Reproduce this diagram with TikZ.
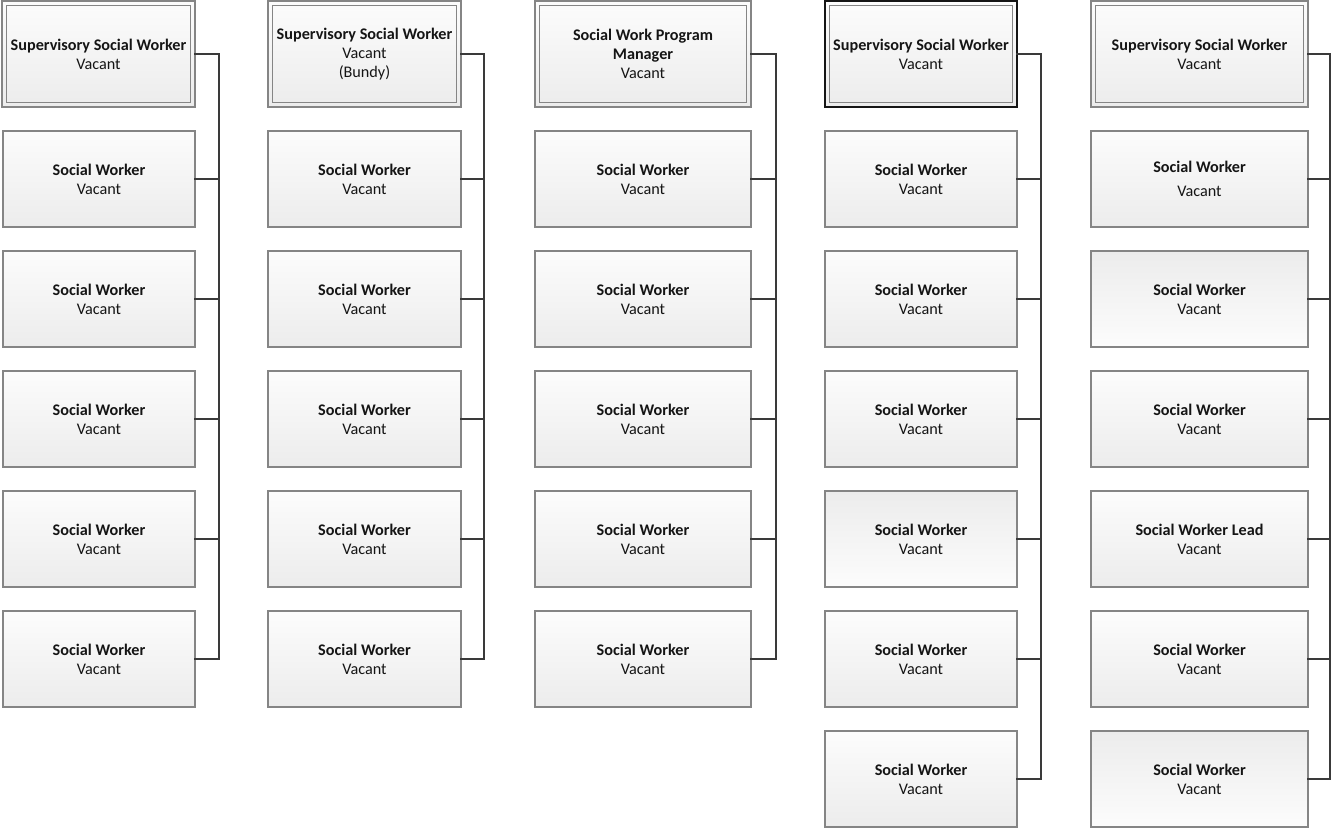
\documentclass[tikz,border=0pt]{standalone}
\usepackage{fontspec}
\setmainfont{Carlito}
\begin{document}
\definecolor{boxedge}{HTML}{858585}
\definecolor{boxtop}{HTML}{FCFCFC}
\definecolor{boxbot}{HTML}{ECECEC}
\definecolor{wire}{HTML}{3A3A3A}
\definecolor{ink}{HTML}{151515}
\begin{tikzpicture}[x=1pt,y=-1pt,
  posbox/.style={draw=boxedge,line width=1.1pt,top color=boxtop,bottom color=boxbot,
    minimum height=96pt,inner sep=0pt,align=center,text=ink,
    font=\fontsize{16.2}{19.2}\selectfont},
  flipbox/.style={posbox,top color=boxbot,bottom color=boxtop},
  headbox/.style={posbox,minimum height=106pt},
  inset/.style={draw=boxedge,line width=1.1pt},
  wire/.style={draw=wire,line width=2.8pt,line cap=rect}]
\useasboundingbox (0,0) rectangle (1332,829);

% column x-centres / widths: 99/192, 364.5/193, 643/216, 921/192, 1199.5/217
% ---------------- column 1
\node[headbox,minimum width=193pt] (a0) at (98.5,54) {\textbf{Supervisory Social Worker}\\Vacant};
\node[posbox,minimum width=192pt] (a1) at (99,179) {\textbf{Social Worker}\\Vacant};
\node[posbox,minimum width=192pt] (a2) at (99,299) {\textbf{Social Worker}\\Vacant};
\node[posbox,minimum width=192pt] (a3) at (99,419) {\textbf{Social Worker}\\Vacant};
\node[posbox,minimum width=192pt] (a4) at (99,539) {\textbf{Social Worker}\\Vacant};
\node[posbox,minimum width=192pt] (a5) at (99,659) {\textbf{Social Worker}\\Vacant};
\coordinate (abus) at (219,0);

% ---------------- column 2
\node[headbox,minimum width=193pt] (b0) at (364.5,54) {\textbf{Supervisory Social Worker}\\Vacant\\(Bundy)};
\node[posbox,minimum width=193pt] (b1) at (364.5,179) {\textbf{Social Worker}\\Vacant};
\node[posbox,minimum width=193pt] (b2) at (364.5,299) {\textbf{Social Worker}\\Vacant};
\node[posbox,minimum width=193pt] (b3) at (364.5,419) {\textbf{Social Worker}\\Vacant};
\node[posbox,minimum width=193pt] (b4) at (364.5,539) {\textbf{Social Worker}\\Vacant};
\node[posbox,minimum width=193pt] (b5) at (364.5,659) {\textbf{Social Worker}\\Vacant};
\coordinate (bbus) at (484,0);

% ---------------- column 3
\node[headbox,minimum width=216pt] (c0) at (643,54) {\textbf{Social Work Program}\\\textbf{Manager}\\Vacant};
\node[posbox,minimum width=216pt] (c1) at (643,179) {\textbf{Social Worker}\\Vacant};
\node[posbox,minimum width=216pt] (c2) at (643,299) {\textbf{Social Worker}\\Vacant};
\node[posbox,minimum width=216pt] (c3) at (643,419) {\textbf{Social Worker}\\Vacant};
\node[posbox,minimum width=216pt] (c4) at (643,539) {\textbf{Social Worker}\\Vacant};
\node[posbox,minimum width=216pt] (c5) at (643,659) {\textbf{Social Worker}\\Vacant};
\coordinate (cbus) at (776,0);

% ---------------- column 4
\node[headbox,minimum width=192pt,draw=ink] (d0) at (921,54) {\textbf{Supervisory Social Worker}\\Vacant};
\node[posbox,minimum width=192pt] (d1) at (921,179) {\textbf{Social Worker}\\Vacant};
\node[posbox,minimum width=192pt] (d2) at (921,299) {\textbf{Social Worker}\\Vacant};
\node[posbox,minimum width=192pt] (d3) at (921,419) {\textbf{Social Worker}\\Vacant};
\node[flipbox,minimum width=192pt] (d4) at (921,539) {\textbf{Social Worker}\\Vacant};
\node[posbox,minimum width=192pt] (d5) at (921,659) {\textbf{Social Worker}\\Vacant};
\node[posbox,minimum width=192pt] (d6) at (921,779) {\textbf{Social Worker}\\Vacant};
\coordinate (dbus) at (1041,0);

% ---------------- column 5
\node[headbox,minimum width=217pt] (e0) at (1199.5,54) {\textbf{Supervisory Social Worker}\\Vacant};
\node[posbox,minimum width=217pt] (e1) at (1199.5,179) {\textbf{Social Worker}\\[5pt]Vacant};
\node[flipbox,minimum width=217pt] (e2) at (1199.5,299) {\textbf{Social Worker}\\Vacant};
\node[posbox,minimum width=217pt] (e3) at (1199.5,419) {\textbf{Social Worker}\\Vacant};
\node[posbox,minimum width=217pt] (e4) at (1199.5,539) {\textbf{Social Worker Lead}\\Vacant};
\node[posbox,minimum width=217pt] (e5) at (1199.5,659) {\textbf{Social Worker}\\Vacant};
\node[flipbox,minimum width=217pt] (e6) at (1199.5,779) {\textbf{Social Worker}\\Vacant};
\coordinate (ebus) at (1330,0);

% inner frame of the head boxes
\foreach \h in {a0,b0,c0,d0,e0}
  \draw[inset] ([xshift=5pt,yshift=-5pt]\h.north west) rectangle ([xshift=-5pt,yshift=5pt]\h.south east);

% reporting lines: spine from head to last box, stubs to the boxes between
\foreach \col/\last/\mids in {a/a5/{a1,a2,a3,a4}, b/b5/{b1,b2,b3,b4}, c/c5/{c1,c2,c3,c4},
                              d/d6/{d1,d2,d3,d4,d5}, e/e6/{e1,e2,e3,e4,e5}}{
  \draw[wire] (\col0.east) -- (\col0.east -| \col bus) -- (\last.east -| \col bus) -- (\last.east);
  \foreach \m in \mids
    \draw[wire] (\m.east) -- (\m.east -| \col bus);
}
\end{tikzpicture}
\end{document}
